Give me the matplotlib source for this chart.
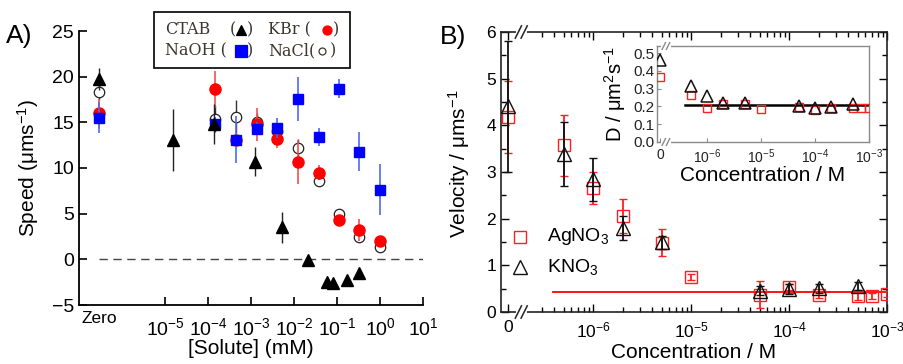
import numpy as np
import matplotlib
matplotlib.use("Agg")
import matplotlib.pyplot as plt
from matplotlib.lines import Line2D
from matplotlib.patches import Rectangle
from matplotlib.ticker import FixedLocator, NullLocator, NullFormatter, FixedFormatter

plt.rcParams['font.family'] = ['Liberation Sans', 'DejaVu Sans']
plt.rcParams['mathtext.fontset'] = 'custom'
plt.rcParams['mathtext.rm'] = 'Liberation Sans'
plt.rcParams['mathtext.it'] = 'Liberation Sans:italic'
plt.rcParams['mathtext.bf'] = 'Liberation Sans:bold'

# ---------------- Panel A data ----------------
ZERO_A = 2.9e-7  # position used for the "Zero" concentration
ctab_x = [ZERO_A, 1.5e-5, 1.35e-4, 1.26e-3, 5.3e-3, 0.021, 0.06, 0.079, 0.17, 0.33]
ctab_y = [19.7, 13.1, 14.8, 10.7, 3.5, -0.1, -2.45, -2.55, -2.3, -1.55]
ctab_e = [1.2, 3.4, 2.2, 1.6, 1.7, 0.3, 0.4, 0.4, 0.3, 0.3]

salt_x = [ZERO_A, 1.48e-4, 4.6e-4, 1.36e-3, 4.1e-3, 0.0124, 0.038, 0.11, 0.33, 1.0]
kbr_y = [16.0, 18.6, 13.1, 14.8, 13.2, 10.7, 9.5, 4.3, 3.2, 2.0]
kbr_e = [1.6, 2.0, 0.6, 1.8, 1.0, 2.4, 0.8, 0.5, 1.2, 0.5]
nacl_y = [18.3, 15.4, 15.6, 15.0, 14.0, 12.2, 8.6, 5.0, 2.4, 1.4]
nacl_e = [0.8, 1.5, 1.8, 1.0, 0.8, 1.0, 0.6, 0.5, 0.5, 0.4]
naoh_y = [15.5, 14.8, 13.1, 14.3, 14.4, 17.6, 13.4, 18.7, 11.8, 7.6]
naoh_e = [1.7, 0.8, 2.6, 0.7, 1.1, 2.4, 1.0, 1.0, 2.1, 2.8]

a_xticks = [1e-5, 1e-4, 1e-3, 1e-2, 1e-1, 1e0, 1e1]
a_xticklabels = ['$10^{-5}$', '$10^{-4}$', '$10^{-3}$', '$10^{-2}$', '$10^{-1}$', '$10^{0}$', '$10^{1}$']
a_yticks = [-5, 0, 5, 10, 15, 20, 25]

# ---------------- Panel B data ----------------
ZERO_B = 1.35e-7
ag_x = [ZERO_B, 5e-7, 1e-6, 2e-6, 5e-6, 1e-5, 5e-5, 1e-4, 2e-4, 5e-4, 7e-4, 1e-3]
ag_y = [4.18, 3.57, 2.65, 2.06, 1.48, 0.75, 0.37, 0.54, 0.37, 0.34, 0.34, 0.39]
ag_e = [0.78, 0.65, 0.34, 0.36, 0.29, 0.06, 0.29, 0.06, 0.08, 0.08, 0.06, 0.06]
kn_x = [ZERO_B, 5e-7, 1e-6, 2e-6, 5e-6, 5e-5, 1e-4, 2e-4, 5e-4]
kn_y = [4.41, 3.39, 2.84, 1.80, 1.49, 0.46, 0.49, 0.51, 0.56]
kn_e = [1.4, 0.68, 0.47, 0.25, 0.13, 0.10, 0.10, 0.10, 0.08]
fit_x = [3.9e-7, 1e-3]
fit_v = [0.42, 0.42]

# inset (diffusion coefficient)
ins_ag_y = [0.363, 0.264, 0.19, 0.214, 0.212, 0.186, 0.195, 0.18, 0.193, 0.19, 0.19, 0.19]
ins_kn_y = [0.464, 0.315, 0.26, 0.221, 0.218, 0.204, 0.193, 0.198, 0.213]
fit_d = [0.21, 0.21]

b_xticks = [ZERO_B, 1e-6, 1e-5, 1e-4, 1e-3]
b_xticklabels = ['0', '$10^{-6}$', '$10^{-5}$', '$10^{-4}$', '$10^{-3}$']
b_minor = [3e-7, 4e-7, 5e-7, 6e-7, 7e-7, 8e-7, 9e-7] + \
          [m * 10.0 ** e for e in (-6, -5, -4) for m in range(2, 10)]

W, H = 904, 364
fig = plt.figure(figsize=(W / 100, H / 100), dpi=100)


def fx(px):
    return px / W


def fy(py):
    return 1 - py / H


# ================= Panel A =================
axA = fig.add_axes([fx(79), fy(305), fx(423) - fx(79), fy(31) - fy(305)])
axA.set_xscale('log')
axA.set_xlim(1e-7, 10)
axA.set_ylim(-5, 25)
axA.axhline(0, xmin=(np.log10(ZERO_A) + 7) / 8, xmax=1, color='#444444',
            lw=1.0, dashes=(6, 4), zorder=1)

axA.errorbar(salt_x, nacl_y, yerr=nacl_e, fmt='o', ms=7.5, mfc='white', mec='#222222',
             mew=0.9, ecolor='#333333', elinewidth=1.0, zorder=2)
axA.errorbar(salt_x, kbr_y, yerr=kbr_e, fmt='o', ms=8, mfc='#ff0000', mec='#ff0000',
             ecolor='#f05050', elinewidth=1.2, zorder=3)
axA.errorbar(salt_x, naoh_y, yerr=naoh_e, fmt='s', ms=7, mfc='#0000ff', mec='#0000ff',
             ecolor='#5068f0', elinewidth=1.2, zorder=4)
axA.errorbar(ctab_x, ctab_y, yerr=ctab_e, fmt='^', ms=8.5, mfc='black', mec='black',
             ecolor='#222222', elinewidth=1.0, zorder=5)

for s in ('top', 'right'):
    axA.spines[s].set_visible(False)
for s in ('left', 'bottom'):
    axA.spines[s].set_linewidth(1.3)
axA.xaxis.set_major_locator(FixedLocator(a_xticks))
axA.xaxis.set_major_formatter(FixedFormatter(a_xticklabels))
axA.xaxis.set_minor_locator(NullLocator())
axA.set_yticks(a_yticks)
axA.tick_params(axis='both', direction='in', length=6, width=1.2, labelsize=14)
axA.tick_params(axis='x', pad=9)
axA.text(ZERO_A, -5.7, 'Zero', ha='center', va='top', fontsize=12.5)
axA.set_xlabel('[Solute] (mM)', fontsize=15, labelpad=0)
axA.xaxis.set_label_coords(0.5, -0.125)
axA.set_ylabel(r'Speed ($\mathrm{\mu}$ms$^{-1}$)', fontsize=15)
axA.yaxis.set_label_coords(-0.11, 0.5)

fig.text(fx(6), fy(36), 'A)', fontsize=19, va='center', ha='left')

# legend box for panel A
fig.add_artist(Rectangle((fx(154), fy(68)), fx(350) - fx(154), fy(12) - fy(68),
                         transform=fig.transFigure, fill=True, fc='white',
                         ec='black', lw=1.2, zorder=10))
lg_color = '#3d3530'
lg_kw = dict(fontsize=11.5, family=['DejaVu Serif'], color=lg_color, va='center', zorder=11)
r1, r2 = fy(30), fy(51)
fig.text(fx(165), r1, 'CTAB', ha='left', **lg_kw)
fig.text(fx(233), r1, '(', ha='center', **lg_kw)
fig.text(fx(250), r1, ')', ha='center', **lg_kw)
fig.text(fx(268), r1, 'KBr (', ha='left', **lg_kw)
fig.text(fx(336), r1, ')', ha='center', **lg_kw)
fig.text(fx(165), r2, 'NaOH (', ha='left', **lg_kw)
fig.text(fx(250), r2, ')', ha='center', **lg_kw)
fig.text(fx(268), r2, 'NaCl(', ha='left', **lg_kw)
fig.text(fx(333), r2, ')', ha='center', **lg_kw)
for (px, py, mk, fc, ec, ms) in [(241, 30, '^', 'black', 'black', 6.5),
                                 (327, 30, 'o', '#ff0000', '#ff0000', 6.5),
                                 (241, 51, 's', '#0000ff', '#0000ff', 8),
                                 (322, 51, 'o', 'white', lg_color, 5)]:
    fig.add_artist(Line2D([fx(px)], [fy(py)], marker=mk, ms=ms, mfc=fc,
                          mec=ec, mew=0.9, transform=fig.transFigure, zorder=12))

# ================= Panel B =================
axB = fig.add_axes([fx(501), fy(312), fx(887) - fx(501), fy(32) - fy(312)])
axB.set_xscale('log')
axB.set_xlim(10 ** -6.94, 1e-3)
axB.set_ylim(0, 6)
axB.plot(fit_x, fit_v, color='#ff0000', lw=1.3, zorder=2)
axB.errorbar(ag_x, ag_y, yerr=ag_e, fmt='s', ms=8, mfc='none', mec='#ff2020', mew=1.0,
             ecolor='#ff2020', elinewidth=1.3, capsize=3, capthick=1.3, zorder=3)
axB.errorbar(kn_x, kn_y, yerr=kn_e, fmt='^', ms=10, mfc='none', mec='#111111', mew=1.0,
             ecolor='#111111', elinewidth=1.3, capsize=3, capthick=1.3, zorder=4)

for s in axB.spines.values():
    s.set_linewidth(1.2)
    s.set_color('#222222')
axB.xaxis.set_major_locator(FixedLocator(b_xticks))
axB.xaxis.set_major_formatter(FixedFormatter(b_xticklabels))
axB.xaxis.set_minor_locator(FixedLocator(b_minor))
axB.xaxis.set_minor_formatter(NullFormatter())
axB.set_yticks(range(0, 7))
axB.yaxis.set_minor_locator(FixedLocator(np.arange(0.5, 6, 1.0)))
axB.tick_params(which='both', direction='in', top=True, right=True, width=1.0)
axB.tick_params(which='major', length=6, labelsize=12.5)
axB.tick_params(which='minor', length=3.5)
axB.tick_params(axis='x', pad=6)
axB.set_xlabel('Concentration / M', fontsize=15)
axB.xaxis.set_label_coords(0.5, -0.11)
axB.set_ylabel(r'Velocity / $\mathrm{\mu}$ms$^{-1}$', fontsize=15)
axB.yaxis.set_label_coords(-0.075, 0.53)

# axis break marks
for yb in (0, 1):
    axB.add_patch(Rectangle((0.038, yb - 0.015), 0.03, 0.03, transform=axB.transAxes,
                            fc='white', ec='none', clip_on=False, zorder=6))
    for xb in (0.045, 0.06):
        axB.add_line(Line2D([xb - 0.008, xb + 0.008], [yb - 0.022, yb + 0.022],
                            transform=axB.transAxes, color='#222222', lw=1.1,
                            clip_on=False, zorder=7))

# legend for panel B
axB.plot([0.049], [0.268], transform=axB.transAxes, marker='s', ms=8, mfc='none',
         mec='#ff2020', mew=1.0, ls='none', clip_on=False)
axB.plot([0.049], [0.16], transform=axB.transAxes, marker='^', ms=10, mfc='none',
         mec='#111111', mew=1.0, ls='none', clip_on=False)
axB.text(0.12, 0.268, 'AgNO$_3$', transform=axB.transAxes, fontsize=14, va='center')
axB.text(0.12, 0.16, 'KNO$_3$', transform=axB.transAxes, fontsize=14, va='center')

fig.text(fx(440), fy(37), 'B)', fontsize=19, va='center', ha='left')

# ================= Inset =================
axI = fig.add_axes([fx(657), fy(142), fx(869) - fx(657), fy(46) - fy(142)])
axI.set_xscale('log')
axI.set_xlim(10 ** -6.93, 1e-3)
axI.set_ylim(0, 0.54)
axI.plot(fit_x, fit_d, color='black', lw=1.8, zorder=2)
axI.plot(ag_x, ins_ag_y, 's', ms=6, mfc='none', mec='#ff2020', mew=1.0, zorder=3)
axI.plot(kn_x, ins_kn_y, '^', ms=8, mfc='none', mec='#111111', mew=1.1, zorder=4)
for s in axI.spines.values():
    s.set_color('#8a8a8a')
    s.set_linewidth(1.0)
axI.xaxis.set_major_locator(FixedLocator(b_xticks))
axI.xaxis.set_major_formatter(FixedFormatter(b_xticklabels))
axI.xaxis.set_minor_locator(NullLocator())
axI.set_yticks(np.arange(0, 0.51, 0.1))
axI.set_yticklabels(['0.0', '0.1', '0.2', '0.3', '0.4', '0.5'])
axI.tick_params(which='both', direction='in', length=3, color='#8a8a8a',
                labelcolor='#222222', pad=2)
axI.tick_params(axis='y', labelsize=11)
axI.tick_params(axis='x', labelsize=10, pad=4)
axI.set_xlabel('Concentration / M', fontsize=15, labelpad=0)
axI.xaxis.set_label_coords(0.5, -0.25)
axI.set_ylabel(r'D / $\mathrm{\mu}$m$^2$s$^{-1}$', fontsize=14.5)
axI.yaxis.set_label_coords(-0.135, 0.5)
for yb in (0, 1):
    axI.add_patch(Rectangle((0.02, yb - 0.03), 0.045, 0.06, transform=axI.transAxes,
                            fc='white', ec='none', clip_on=False, zorder=6))
    for xb in (0.032, 0.052):
        axI.add_line(Line2D([xb - 0.008, xb + 0.008], [yb - 0.035, yb + 0.035],
                            transform=axI.transAxes, color='#8a8a8a', lw=1.0,
                            clip_on=False, zorder=7))

fig.savefig('out.png', dpi=100)
